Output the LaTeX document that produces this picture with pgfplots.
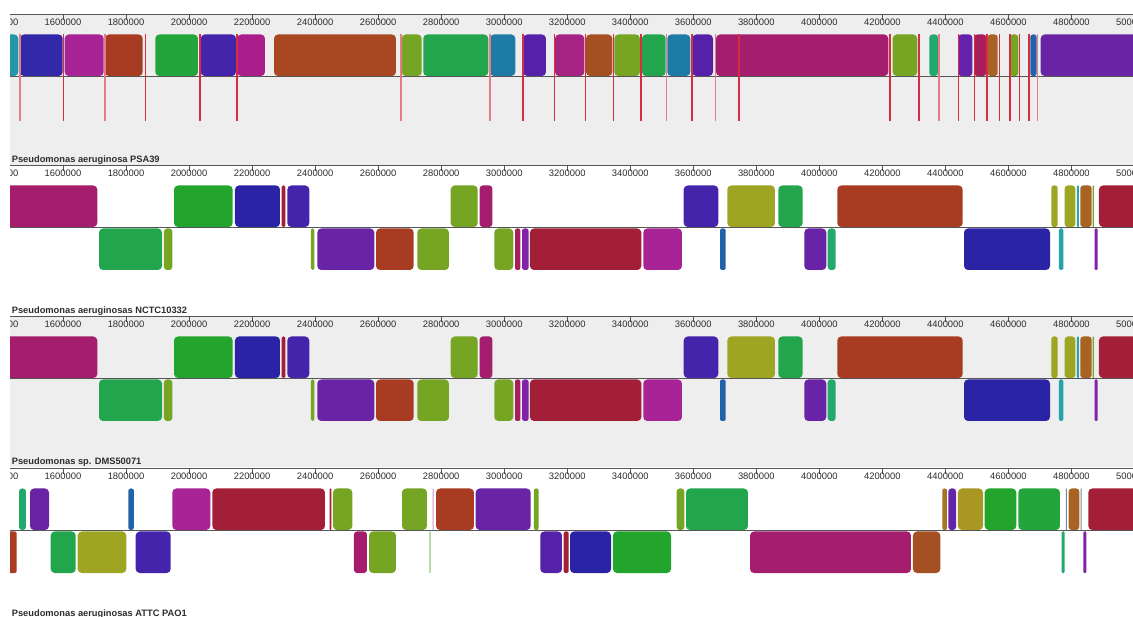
\documentclass[border=0pt]{standalone}
\usepackage{pgfplots}
\pgfplotsset{compat=1.18}
\usepackage{fontspec}
\setmainfont{Liberation Sans}
\definecolor{bg}{RGB}{238,238,238}
\definecolor{ax}{RGB}{85,85,85}
\definecolor{txt}{RGB}{45,45,45}
\definecolor{teal1}{RGB}{35,150,170}
\definecolor{blue1}{RGB}{50,40,170}
\definecolor{blue3}{RGB}{42,35,165}
\definecolor{mag1}{RGB}{168,36,150}
\definecolor{brick}{RGB}{168,60,35}
\definecolor{green1}{RGB}{35,165,60}
\definecolor{green3}{RGB}{35,165,45}
\definecolor{viol1}{RGB}{68,36,170}
\definecolor{mag2}{RGB}{170,30,140}
\definecolor{brown1}{RGB}{168,72,35}
\definecolor{olive1}{RGB}{118,165,35}
\definecolor{green2}{RGB}{35,165,78}
\definecolor{steel}{RGB}{30,123,165}
\definecolor{viol2}{RGB}{85,33,168}
\definecolor{mag3}{RGB}{165,35,130}
\definecolor{brown2}{RGB}{165,80,35}
\definecolor{magr}{RGB}{165,30,110}
\definecolor{tealg}{RGB}{35,168,110}
\definecolor{viol3}{RGB}{100,35,170}
\definecolor{crim2}{RGB}{168,30,90}
\definecolor{orng}{RGB}{168,98,35}
\definecolor{blue2}{RGB}{35,98,168}
\definecolor{purp}{RGB}{105,35,165}
\definecolor{purp2}{RGB}{128,35,168}
\definecolor{crim}{RGB}{163,30,55}
\definecolor{olivey}{RGB}{158,165,35}
\definecolor{gold}{RGB}{170,150,35}
\definecolor{gold2}{RGB}{165,115,35}
\definecolor{cyan1}{RGB}{35,165,170}
\definecolor{pinkm}{RGB}{205,150,195}
\definecolor{lgreen}{RGB}{150,200,120}
\definecolor{thin1}{RGB}{110,140,150}
\definecolor{redl}{RGB}{215,45,65}
\definecolor{pinkl}{RGB}{228,125,136}
% top block, bottom block, red line
\newcommand{\bt}[4][4pt]{\addplot[fill=#4,draw=none,rounded corners=#1] coordinates {(#2,-40) (#2,-19.5) (#3,-19.5) (#3,-61) (#2,-61) (#2,-40)};}
\newcommand{\bb}[4][4pt]{\addplot[fill=#4,draw=none,rounded corners=#1] coordinates {(#2,-83) (#2,-62.5) (#3,-62.5) (#3,-104) (#2,-104) (#2,-83)};}
\newcommand{\redline}[2]{\addplot[draw=#2,mark=none,line width=1.6pt] coordinates {(#1,-19) (#1,-106)};}
\newcommand{\cl}{\addplot[ax,line width=1pt] coordinates {(1400000,-61.5) (5000000,-61.5)};}
\pgfplotsset{panel/.style={
  scale only axis, width=1134.5pt, height=150.5pt,
  xmin=1400000, xmax=5000000, ymin=-150.5, ymax=0,
  anchor=north west,
  hide y axis,
  axis x line*=top,
  scaled x ticks=false,
  x axis line style={ax, line width=1pt},
  xtick={1400000,1600000,1800000,2000000,2200000,2400000,2600000,2800000,3000000,3200000,3400000,3600000,3800000,4000000,4200000,4400000,4600000,4800000,5000000},
  xticklabels={1400000,1600000,1800000,2000000,2200000,2400000,2600000,2800000,3000000,3200000,3400000,3600000,3800000,4000000,4200000,4400000,4600000,4800000,5000000},
  tick align=inside,
  major tick length=5pt,
  tick style={ax, line width=0.8pt},
  xticklabel style={anchor=north, yshift=-3.5pt, inner sep=0pt, font=\fontsize{9.4}{10}\selectfont, text=txt},
}}
\newcommand{\plabel}[1]{\node[anchor=base west, inner sep=0pt, font=\bfseries\fontsize{9.3}{10}\selectfont, text=txt] at (axis cs:1437000,-147.5) {#1};}
\begin{document}
\begin{tikzpicture}
\useasboundingbox (0,0) rectangle (1133pt,-617pt);
\fill[white] (0,0) rectangle (1133pt,-617pt);
% ---------------- Panel 1 ----------------
\begin{axis}[panel, at={(0pt,-15pt)}, axis background/.style={fill=bg}]
\bt{1380000}{1458100}{teal1}
\bt{1463500}{1599000}{blue1}
\bt{1605300}{1729100}{mag1}
\bt{1733200}{1852800}{brick}
\bt{1892800}{2028300}{green1}
\bt{2036900}{2148900}{viol1}
\bt{2153000}{2240900}{mag2}
\bt{2269500}{2656600}{brown1}
\bt{2674700}{2738200}{olive1}
\bt{2743300}{2949500}{green2}
\bt{2954900}{3035200}{steel}
\bt{3060600}{3132600}{viol2}
\bt{3161200}{3254200}{mag3}
\bt{3259600}{3343000}{brown2}
\bt{3349300}{3430900}{olive1}
\bt{3437300}{3512500}{green2}
\bt{3517500}{3590500}{steel}
\bt{3596900}{3662600}{viol2}
\bt{3672100}{4218800}{magr}
\bt{4232800}{4310900}{olive1}
\bt[3pt]{4349000}{4376600}{tealg}
\bt[3pt]{4441000}{4485400}{viol3}
\bt[3pt]{4491700}{4529800}{crim2}
\bt[3pt]{4534300}{4566000}{orng}
\bt[3pt]{4605000}{4631400}{olive1}
\bt[2.5pt]{4669400}{4689700}{blue2}
\bt{4702400}{5060000}{purp}
\cl
\redline{1463500}{pinkl}
\redline{1600900}{redl}
\redline{1733200}{pinkl}
\redline{1861100}{redl}
\redline{2035600}{redl}
\redline{2153000}{redl}
\redline{2672500}{pinkl}
\redline{2954000}{pinkl}
\redline{3058700}{redl}
\redline{3159000}{redl}
\redline{3258600}{redl}
\redline{3347400}{redl}
\redline{3434100}{redl}
\redline{3514400}{pinkl}
\redline{3595000}{redl}
\redline{3671100}{pinkl}
\redline{3746000}{redl}
\redline{4225200}{redl}
\redline{4317200}{redl}
\redline{4379700}{pinkl}
\redline{4441000}{redl}
\redline{4493000}{redl}
\redline{4533000}{redl}
\redline{4571100}{redl}
\redline{4604100}{redl}
\redline{4634600}{redl}
\redline{4664400}{redl}
\redline{4692900}{pinkl}
\plabel{Pseudomonas aeruginosa PSA39}
\end{axis}
% ---------------- Panel 2 ----------------
\begin{axis}[panel, at={(0pt,-166pt)}]
\bt{1380000}{1708800}{magr}
\bt{1952200}{2138400}{green3}
\bt{2145700}{2288500}{blue3}
\bt[1.5pt]{2293900}{2305300}{crim}
\bt{2311700}{2381500}{viol1}
\bt{2830200}{2915900}{olive1}
\bt[3pt]{2922200}{2962200}{magr}
\bt{3569600}{3679400}{viol1}
\bt{3707900}{3859300}{olivey}
\bt{3869800}{3947200}{green2}
\bt{4057000}{4454900}{brick}
\bt[2.5pt]{4736100}{4756400}{olivey}
\bt[3pt]{4778600}{4812200}{olivey}
\bt[0.8pt]{4817600}{4824000}{cyan1}
\bt[3pt]{4828100}{4864300}{orng}
\bt[0.5pt]{4867500}{4871600}{olive1}
\bt{4887400}{5060000}{crim}
\bb{1714200}{1914100}{green2}
\bb[3pt]{1920400}{1946800}{olive1}
\bb[1.5pt]{2386900}{2397400}{olive1}
\bb{2406900}{2587800}{purp}
\bb{2593200}{2712800}{brick}
\bb{2724200}{2824800}{olive1}
\bb{2968600}{3028900}{olive1}
\bb[2pt]{3034300}{3051100}{crim2}
\bb[2.5pt]{3056500}{3077700}{purp2}
\bb{3081800}{3435100}{crim}
\bb{3441400}{3564200}{mag1}
\bb[2pt]{3684800}{3702900}{blue2}
\bb{3952300}{4022100}{purp}
\bb[3pt]{4026600}{4051900}{tealg}
\bb{4459100}{4732000}{blue3}
\bb[1.5pt]{4760500}{4774200}{cyan1}
\bb[1pt]{4873800}{4883300}{purp2}
\cl
\plabel{Pseudomonas aeruginosas NCTC10332}
\end{axis}
% ---------------- Panel 3 ----------------
\begin{axis}[panel, at={(0pt,-317pt)}, axis background/.style={fill=bg}]
\bt{1380000}{1708800}{magr}
\bt{1952200}{2138400}{green3}
\bt{2145700}{2288500}{blue3}
\bt[1.5pt]{2293900}{2305300}{crim}
\bt{2311700}{2381500}{viol1}
\bt{2830200}{2915900}{olive1}
\bt[3pt]{2922200}{2962200}{magr}
\bt{3569600}{3679400}{viol1}
\bt{3707900}{3859300}{olivey}
\bt{3869800}{3947200}{green2}
\bt{4057000}{4454900}{brick}
\bt[2.5pt]{4736100}{4756400}{olivey}
\bt[3pt]{4778600}{4812200}{olivey}
\bt[0.8pt]{4817600}{4824000}{cyan1}
\bt[3pt]{4828100}{4864300}{orng}
\bt[0.5pt]{4867500}{4871600}{olive1}
\bt{4887400}{5060000}{crim}
\bb{1714200}{1914100}{green2}
\bb[3pt]{1920400}{1946800}{olive1}
\bb[1.5pt]{2386900}{2397400}{olive1}
\bb{2406900}{2587800}{purp}
\bb{2593200}{2712800}{brick}
\bb{2724200}{2824800}{olive1}
\bb{2968600}{3028900}{olive1}
\bb[2pt]{3034300}{3051100}{crim2}
\bb[2.5pt]{3056500}{3077700}{purp2}
\bb{3081800}{3435100}{crim}
\bb{3441400}{3564200}{mag1}
\bb[2pt]{3684800}{3702900}{blue2}
\bb{3952300}{4022100}{purp}
\bb[3pt]{4026600}{4051900}{tealg}
\bb{4459100}{4732000}{blue3}
\bb[1.5pt]{4760500}{4774200}{cyan1}
\bb[1pt]{4873800}{4883300}{purp2}
\cl
\plabel{Pseudomonas sp. DMS50071}
\end{axis}
% ---------------- Panel 4 ----------------
\begin{axis}[panel, at={(0pt,-469pt)}]
\bt[3pt]{1460300}{1482500}{tealg}
\bt{1495200}{1555500}{purp}
\bt[2.5pt]{1807100}{1825200}{blue2}
\bt{1946800}{2067300}{mag1}
\bt{2073700}{2431300}{crim}
\bt[0.6pt]{2446200}{2451300}{crim}
\bt{2456700}{2518000}{olive1}
\bt{2675700}{2755000}{olive1}
\bt[0.5pt]{2773100}{2776200}{pinkm}
\bt{2783600}{2904100}{brick}
\bt{2909500}{3084100}{purp}
\bt[2pt]{3094500}{3109400}{olive1}
\bt[3pt]{3547400}{3571500}{olive1}
\bt{3576900}{3773600}{green2}
\bt[2pt]{4390200}{4405100}{gold2}
\bt[3pt]{4409300}{4433700}{viol3}
\bt{4440000}{4519400}{gold}
\bt{4524700}{4625000}{green3}
\bt{4631400}{4763700}{green1}
\bt[0.4pt]{4782000}{4785500}{thin1}
\bt[3pt]{4791200}{4824900}{orng}
\bt[0.4pt]{4829000}{4832000}{thin1}
\bt{4853500}{5060000}{crim}
\bb[2pt]{1425000}{1453000}{brick}
\bb{1560900}{1640200}{green2}
\bb{1646600}{1800800}{olivey}
\bb{1830600}{1941700}{viol1}
\bb[3pt]{2523300}{2564600}{magr}
\bb{2571000}{2656600}{olive1}
\bb[0.5pt]{2762300}{2766700}{lgreen}
\bb{3114500}{3183400}{viol2}
\bb[2pt]{3188800}{3204700}{crim}
\bb{3208800}{3338900}{blue3}
\bb{3345200}{3529300}{green3}
\bb{3780000}{4290800}{magr}
\bb{4297200}{4383900}{brown2}
\bb[1pt]{4769100}{4778600}{tealg}
\bb[1pt]{4837600}{4847200}{purp2}
\cl
\plabel{Pseudomonas aeruginosas ATTC PAO1}
\end{axis}
\fill[white] (0,0) rectangle (10pt,-617pt);
\end{tikzpicture}
\end{document}
